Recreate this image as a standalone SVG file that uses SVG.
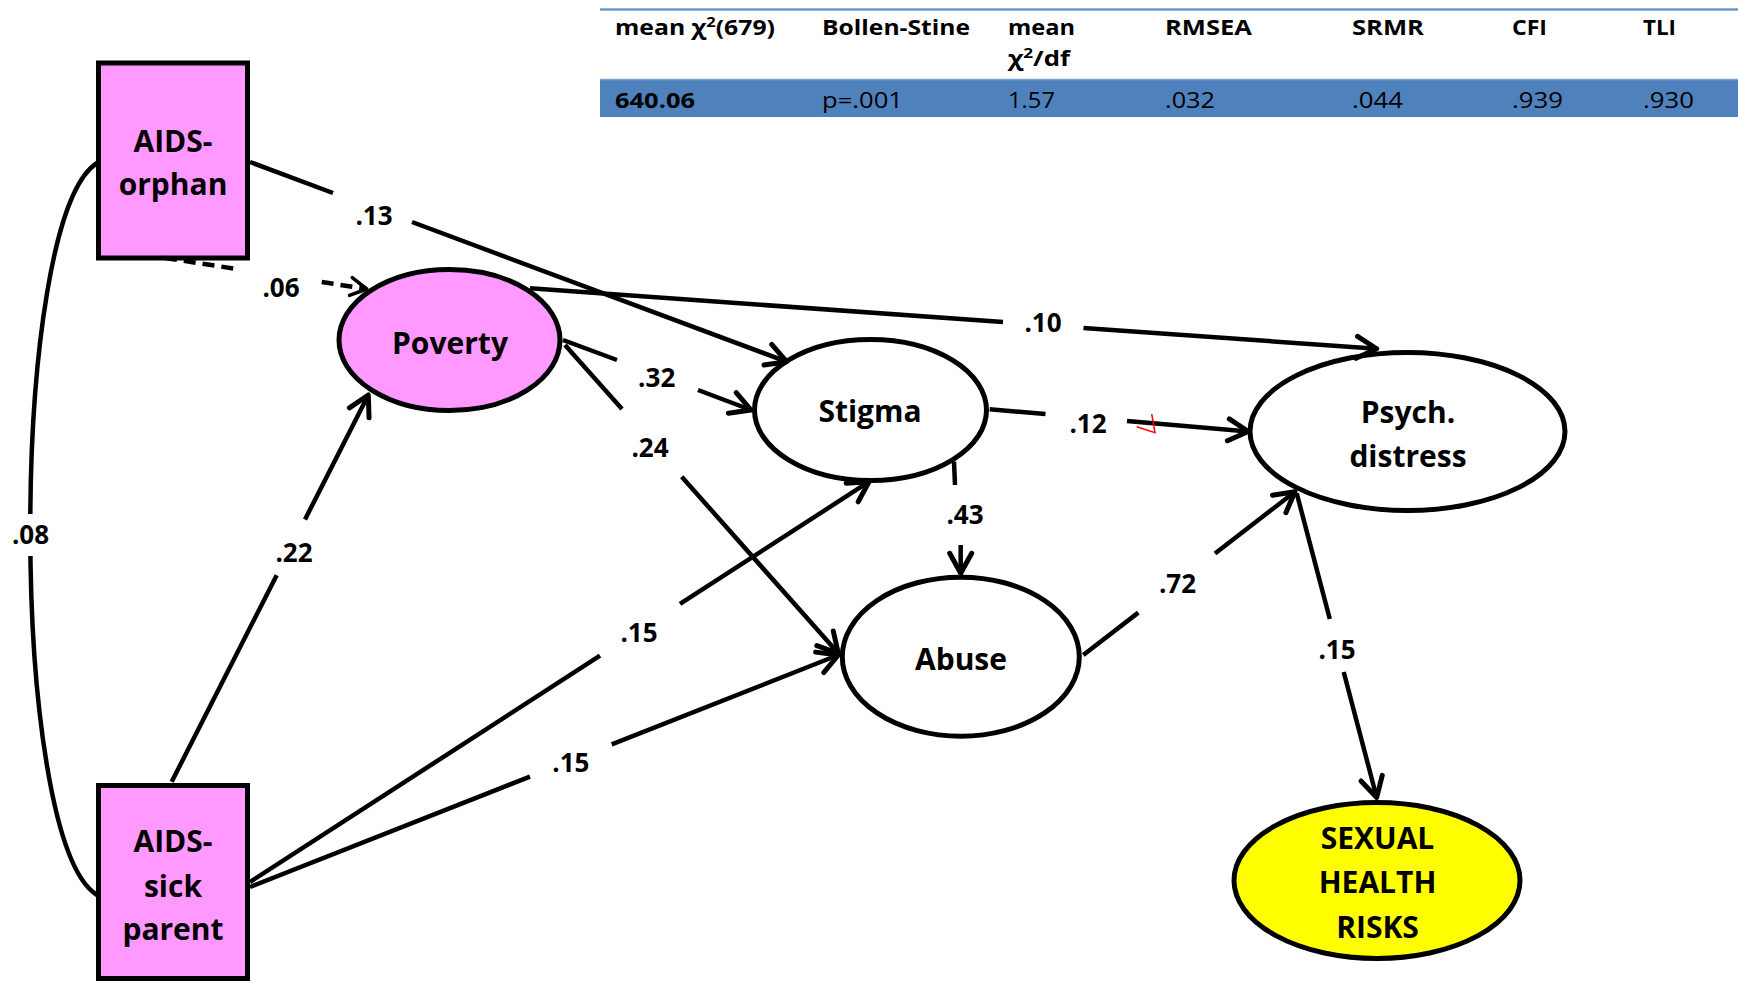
<svg xmlns="http://www.w3.org/2000/svg" width="1738" height="983" viewBox="0 0 1738 983">
<style>
.node{stroke:#000;stroke-width:5}
.pink{fill:#ff99ff}
.white{fill:#fff}
.yellow{fill:#ffff00}
.nt{font-family:"Open Sans","Liberation Sans",sans-serif;font-weight:bold;font-size:30px;fill:#000;text-anchor:middle}
.lb{font-family:"Open Sans","Liberation Sans",sans-serif;font-weight:bold;font-size:26px;fill:#000;text-anchor:middle}
.c{fill:none;stroke:#000;stroke-width:4.5}
.th{font-family:"Open Sans","Liberation Sans",sans-serif;font-weight:bold;font-size:21px;fill:#000}
.td{font-family:"Open Sans","Liberation Sans",sans-serif;font-size:21px;fill:#000}
</style>
<defs>
<marker id="arr" markerUnits="userSpaceOnUse" viewBox="-26 -15 30 30" refX="0" refY="0" markerWidth="30" markerHeight="30" orient="auto">
<path d="M-20,-11 L0,0 L-20,11" fill="none" stroke="#000" stroke-width="5" stroke-linecap="round" stroke-linejoin="round"/>
</marker>
<marker id="arrs" markerUnits="userSpaceOnUse" viewBox="-22 -12 26 24" refX="0" refY="0" markerWidth="26" markerHeight="24" orient="auto">
<path d="M-16,-9 L0,0 L-16,9" fill="none" stroke="#000" stroke-width="3.5" stroke-linecap="round" stroke-linejoin="round"/>
</marker>
</defs>
<rect width="1738" height="983" fill="#fff"/>

<g id="fit-table">
<line x1="600" y1="9.5" x2="1738" y2="9.5" stroke="#6f96c9" stroke-width="2.5"/>
<rect x="600" y="79" width="1138" height="38" fill="#4f81bd"/>
<line x1="600" y1="79.5" x2="1738" y2="79.5" stroke="#7fa3d1" stroke-width="1.5"/>
<text class="th" x="615" y="35" textLength="160" lengthAdjust="spacingAndGlyphs">mean χ<tspan dy="-8" font-size="14">2</tspan><tspan dy="8">(679)</tspan></text>
<text class="th" x="822" y="35" textLength="148" lengthAdjust="spacingAndGlyphs">Bollen-Stine</text>
<text class="th" x="1008" y="35" textLength="67" lengthAdjust="spacingAndGlyphs">mean</text>
<text class="th" x="1008" y="66" textLength="62" lengthAdjust="spacingAndGlyphs">χ<tspan dy="-8" font-size="14">2</tspan><tspan dy="8">/df</tspan></text>
<text class="th" x="1165" y="35" textLength="87" lengthAdjust="spacingAndGlyphs">RMSEA</text>
<text class="th" x="1352" y="35" textLength="72" lengthAdjust="spacingAndGlyphs">SRMR</text>
<text class="th" x="1512" y="35" textLength="35" lengthAdjust="spacingAndGlyphs">CFI</text>
<text class="th" x="1643" y="35" textLength="33" lengthAdjust="spacingAndGlyphs">TLI</text>
<text class="th" x="615" y="108" textLength="80" lengthAdjust="spacingAndGlyphs">640.06</text>
<text class="td" x="822" y="108" textLength="81" lengthAdjust="spacingAndGlyphs">p=.001</text>
<text class="td" x="1008" y="108" textLength="47" lengthAdjust="spacingAndGlyphs">1.57</text>
<text class="td" x="1165" y="108" textLength="50" lengthAdjust="spacingAndGlyphs">.032</text>
<text class="td" x="1352" y="108" textLength="51" lengthAdjust="spacingAndGlyphs">.044</text>
<text class="td" x="1512" y="108" textLength="51" lengthAdjust="spacingAndGlyphs">.939</text>
<text class="td" x="1643" y="108" textLength="51" lengthAdjust="spacingAndGlyphs">.930</text>
</g>

<g id="aids-orphan">
<rect class="node pink" x="98.5" y="63" width="149" height="195"/>
<text class="nt" x="173" y="151.7">AIDS-</text>
<text class="nt" x="173" y="195">orphan</text>
</g>
<g id="aids-sick-parent">
<rect class="node pink" x="98.5" y="785.5" width="149" height="193"/>
<text class="nt" x="173" y="852">AIDS-</text>
<text class="nt" x="173" y="897">sick</text>
<text class="nt" x="173" y="940">parent</text>
</g>
<g id="poverty">
<ellipse class="node pink" cx="449.5" cy="340" rx="110.5" ry="70.5"/>
<text class="nt" x="450" y="354">Poverty</text>
</g>
<g id="stigma">
<ellipse class="node white" cx="870.5" cy="410" rx="116" ry="70.5"/>
<text class="nt" x="870" y="421.7">Stigma</text>
</g>
<g id="abuse">
<ellipse class="node white" cx="960.8" cy="656.7" rx="118.5" ry="79.5"/>
<text class="nt" x="961" y="670">Abuse</text>
</g>
<g id="psych-distress">
<ellipse class="node white" cx="1407.5" cy="431.5" rx="157.5" ry="79"/>
<text class="nt" x="1408" y="422.5">Psych.</text>
<text class="nt" x="1408" y="466.7">distress</text>
</g>
<g id="sexual-health-risks">
<ellipse class="node yellow" cx="1377" cy="880.5" rx="143" ry="78"/>
<text class="nt" x="1377.5" y="848.7">SEXUAL</text>
<text class="nt" x="1377.5" y="893">HEALTH</text>
<text class="nt" x="1377.5" y="938">RISKS</text>
</g>

<g id="connectors">
<path class="c" d="M97,163 C8,220 8,840 97,895"/>
<rect x="8" y="514" width="46" height="42" fill="#fff"/>
<path class="c" d="M250,162 L333,193 M412,222 L786.6,361.7" marker-end="url(#arr)"/>
<path class="c" d="M165,258 L240,269.5 M321.7,282 L366.7,289" stroke-width="3.5" stroke-dasharray="12 7" marker-end="url(#arrs)"/>
<path class="c" d="M530,288.3 L1003,322.1 M1083.5,327.9 L1376.7,348.75" marker-end="url(#arr)"/>
<path class="c" d="M563,340 L617,360 M698,390 L751,410" stroke-width="5" marker-end="url(#arr)"/>
<path class="c" d="M565,345 L622,409 M681.7,476.7 L838.3,653.3" stroke-width="4" marker-end="url(#arr)"/>
<path class="c" d="M171.7,781.7 L276.7,575.2 M305,519.5 L368.3,395" marker-end="url(#arr)"/>
<path class="c" d="M250,882 L600,655.7 M680,603.9 L869,481.7" stroke-width="5" marker-end="url(#arr)"/>
<path class="c" d="M250,887 L530,776.6 M611.7,744.4 L838.3,655" stroke-width="5" marker-end="url(#arr)"/>
<path class="c" d="M989.7,409.3 L1045.5,414.1 M1127,421.1 L1248.3,431.5" stroke-width="5" marker-end="url(#arr)"/>
<path class="c" d="M954,461.7 L955,485 M960.7,545 L960.7,573.3" stroke-width="4" marker-end="url(#arr)"/>
<path class="c" d="M1083.3,655 L1138.3,612.6 M1215,553.5 L1295,491.7" stroke-width="5" marker-end="url(#arr)"/>
<path class="c" d="M1296.7,493.3 L1329.8,619 M1343.7,672 L1376.7,797.5" stroke-width="5.5" marker-end="url(#arr)"/>
<polyline points="1136.7,426.7 1155,432.7 1151.7,414" fill="none" stroke="#ff0000" stroke-width="1.5"/>
</g>

<g id="labels">
<text class="lb" x="30.5" y="544">.08</text>
<text class="lb" x="374" y="225">.13</text>
<text class="lb" x="281" y="296.7">.06</text>
<text class="lb" x="1043" y="332">.10</text>
<text class="lb" x="656.7" y="386.7">.32</text>
<text class="lb" x="650" y="456.7">.24</text>
<text class="lb" x="1088" y="433">.12</text>
<text class="lb" x="965" y="524">.43</text>
<text class="lb" x="294" y="561.7">.22</text>
<text class="lb" x="639" y="641.7">.15</text>
<text class="lb" x="570.8" y="771.7">.15</text>
<text class="lb" x="1177.5" y="593.3">.72</text>
<text class="lb" x="1337" y="659">.15</text>
</g>
</svg>
